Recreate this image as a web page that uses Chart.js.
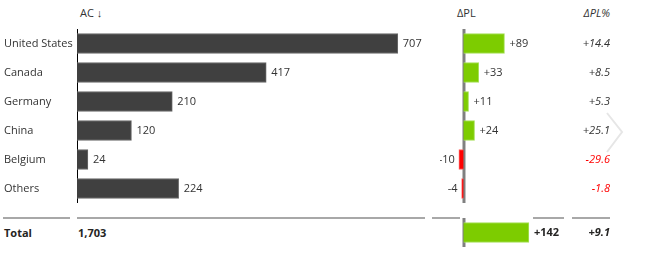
<!DOCTYPE html>
<html><head><meta charset="utf-8">
<script src="https://cdn.jsdelivr.net/npm/chart.js@4.4.1/dist/chart.umd.min.js"></script>
<style>
html,body{margin:0;padding:0;background:#fff;width:650px;height:255px;overflow:hidden;font-family:'Open Sans',sans-serif;}
.box{position:absolute;}
.box canvas{display:block;}
.t{position:absolute;font-size:11px;color:#333;white-space:nowrap;line-height:14px;}
.b{font-weight:bold;color:#252423;}
.sep{position:absolute;height:2px;background:#a8a8a8;top:217px;}
</style></head><body>
<div class="t" id="h1" style="left:80px;top:6px"></div>
<div class="t" id="h2" style="left:457px;top:6px"></div>
<div class="t" id="h3" style="right:40px;top:6px;font-style:italic"></div>

<div class="box" style="left:0;top:29px"><canvas id="ac" width="440" height="174"></canvas></div>
<div class="box" style="left:440px;top:29px"><canvas id="dpl" width="210" height="174"></canvas></div>
<div class="box" style="left:440px;top:218px"><canvas id="tot" width="210" height="29"></canvas></div>

<div class="sep" style="left:3px;width:67px"></div>
<div class="sep" style="left:77px;width:348px"></div>
<div class="sep" style="left:432px;width:28px"></div>
<div class="sep" style="left:533px;width:31px"></div>
<div class="sep" style="left:572px;width:38px"></div>

<div class="t b" id="totName" style="left:4px;top:226px"></div>
<div class="t b" id="totAC" style="left:78px;top:226px"></div>

<svg style="position:absolute;left:600px;top:105px" width="30" height="55"><polyline points="7,8 22,27 7,47" fill="none" stroke="#e6e6e6" stroke-width="2"/></svg>

<script>
const categories = ['United States', 'Canada', 'Germany', 'China', 'Belgium', 'Others'];
const acValues = [707, 417, 210, 120, 24, 224];
const deltaPL = [89, 33, 11, 24, -10, -4];
const deltaPLPct = [14.4, 8.5, 5.3, 25.1, -29.6, -1.8];
const totalLabel = 'Total';
const acTotal = 1703;
const deltaPLTotal = 142;
const deltaPLPctTotal = 9.1;
const headers = ['AC \u2193', '\u0394PL', '\u0394PL%'];

const FONT = "'Open Sans', sans-serif";
document.getElementById('h1').textContent = headers[0];
document.getElementById('h2').textContent = headers[1];
document.getElementById('h3').textContent = headers[2];
document.getElementById('totName').textContent = totalLabel;
document.getElementById('totAC').textContent = acTotal.toLocaleString('en-US');

const GREEN = '#7dcc00', RED = '#ff0000';
const sign = v => (v > 0 ? '+' : '') + v;
const signPct = v => (v > 0 ? '+' : '') + v.toFixed(1);

const acLabels = {
  id: 'acLabels',
  afterDatasetsDraw(chart) {
    const ctx = chart.ctx;
    const meta = chart.getDatasetMeta(0);
    ctx.save();
    ctx.font = '11px ' + FONT;
    ctx.fillStyle = '#333';
    ctx.textBaseline = 'middle';
    ctx.textAlign = 'left';
    meta.data.forEach((bar, i) => {
      ctx.fillText(String(acValues[i]), bar.x + 5, bar.y);
    });
    ctx.restore();
  }
};

function deltaPlugin(values, pcts, bold) {
  return {
    id: 'deltaLabels',
    beforeDatasetsDraw(chart) {
      const ctx = chart.ctx;
      const x0 = chart.scales.x.getPixelForValue(0);
      ctx.save();
      ctx.fillStyle = '#808080';
      ctx.fillRect(x0 - 1, chart.chartArea.top, 3, chart.chartArea.bottom - chart.chartArea.top);
      ctx.restore();
    },
    afterDatasetsDraw(chart) {
      const ctx = chart.ctx;
      const meta = chart.getDatasetMeta(0);
      ctx.save();
      ctx.textBaseline = 'middle';
      meta.data.forEach((bar, i) => {
        const v = values[i];
        ctx.font = (bold ? 'bold ' : '') + '11px ' + FONT;
        ctx.fillStyle = bold ? '#252423' : '#333';
        if (v >= 0) { ctx.textAlign = 'left'; ctx.fillText(sign(v), bar.x + 5, bar.y); }
        else { ctx.textAlign = 'right'; ctx.fillText(sign(v), bar.x - 4, bar.y); }
        const p = pcts[i];
        ctx.font = 'italic ' + (bold ? 'bold ' : '') + '11px ' + FONT;
        ctx.fillStyle = p < 0 ? RED : (bold ? '#252423' : '#333');
        ctx.textAlign = 'right';
        ctx.fillText(signPct(p), chart.chartArea.left + 170, bar.y);
      });
      ctx.restore();
    }
  };
}

const common = {
  indexAxis: 'y', responsive: false, animation: false, events: [],
  plugins: { legend: { display: false }, tooltip: { enabled: false } }
};

new Chart(document.getElementById('ac'), {
  type: 'bar',
  data: { labels: categories, datasets: [{ data: acValues, backgroundColor: '#404040', borderColor: '#6a6a6a', borderWidth: 1, barThickness: 20 }] },
  options: Object.assign({}, common, {
    layout: { padding: { left: 4, top: 0, bottom: 0, right: 0 } },
    scales: {
      x: { display: false, min: 0, max: 800 },
      y: {
        grid: { display: false, drawTicks: false },
        border: { display: true, color: '#000', width: 1 },
        ticks: { crossAlign: 'far', padding: 0, color: '#333', font: { family: FONT, size: 11 } },
        afterFit(s) { s.width = 73; s.paddingTop = 0; s.paddingBottom = 0; }
      }
    }
  }),
  plugins: [acLabels]
});

new Chart(document.getElementById('dpl'), {
  type: 'bar',
  data: { labels: categories, datasets: [{ data: deltaPL, backgroundColor: deltaPL.map(v => v >= 0 ? GREEN : RED), borderColor: deltaPL.map(v => v >= 0 ? '#a6e05a' : '#ff6060'), borderWidth: 1, barThickness: 20 }] },
  options: Object.assign({}, common, {
    layout: { padding: 0 },
    scales: { x: { display: false, min: -51, max: 405 }, y: { display: false } }
  }),
  plugins: [deltaPlugin(deltaPL, deltaPLPct, false)]
});

new Chart(document.getElementById('tot'), {
  type: 'bar',
  data: { labels: [totalLabel], datasets: [{ data: [deltaPLTotal], backgroundColor: GREEN, borderColor: '#a6e05a', borderWidth: 1, barThickness: 20 }] },
  options: Object.assign({}, common, {
    layout: { padding: 0 },
    scales: { x: { display: false, min: -51, max: 405 }, y: { display: false } }
  }),
  plugins: [deltaPlugin([deltaPLTotal], [deltaPLPctTotal], true)]
});
</script>
</body></html>
